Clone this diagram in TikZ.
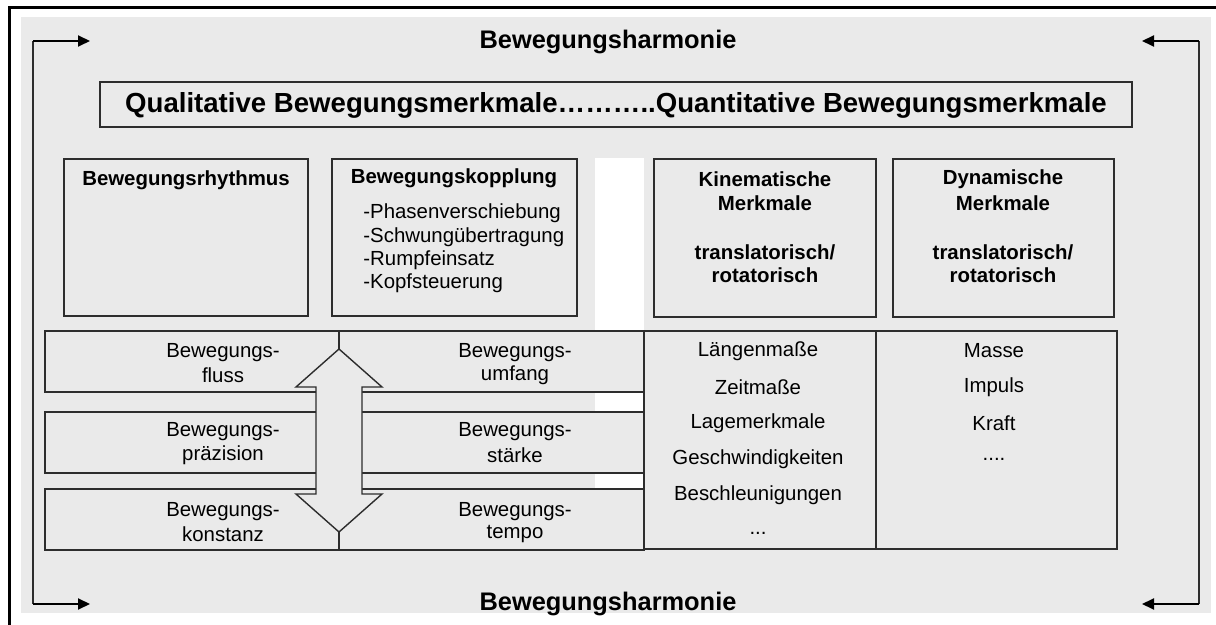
\documentclass[tikz,border=0pt]{standalone}
\usepackage{fontspec}
\setmainfont{Liberation Sans}
\usetikzlibrary{arrows.meta}
\definecolor{panel}{RGB}{234,234,234}
\definecolor{rule}{RGB}{45,45,45}
\begin{document}
\begin{tikzpicture}[x=0.5pt,y=-0.5pt,
  box/.style={draw=rule,line width=0.7pt,fill=panel},
  txt/.style={inner sep=0pt,font=\fontsize{10.2}{12}\selectfont},
  btxt/.style={inner sep=0pt,font=\fontsize{10.2}{12}\selectfont\bfseries},
  headline/.style={inner sep=0pt,font=\fontsize{12.7}{15}\selectfont\bfseries},
  loopline/.style={draw=rule,line width=0.75pt},
  flow/.style={line width=1pt,-{Triangle[length=6pt,width=5.5pt]}}
]
\useasboundingbox (0,0) rectangle (1216,625);
\fill[white] (0,0) rectangle (1216,625);
\fill[panel] (21,17) rectangle (1211,613);
% outer frame, partly outside the page
\begin{scope}
  \clip (0,0) rectangle (1216,625);
  \draw[line width=1.5pt] (9,8) rectangle (1240,650);
\end{scope}

% feedback loop on both sides
\coordinate (lt) at (33,41);   \coordinate (lb) at (33,604);
\coordinate (rt) at (1199,41); \coordinate (rb) at (1199,604);
\coordinate (ltt) at (90,41);  \coordinate (lbt) at (90,604);
\coordinate (rtt) at (1142,41);\coordinate (rbt) at (1142,604);
\draw[loopline] (lt) -- (lb);
\draw[loopline] (rt) -- (rb);
\draw[flow] (lt) -- (ltt);
\draw[flow] (lb) -- (lbt);
\draw[flow] (rt) -- (rtt);
\draw[flow] (rb) -- (rbt);

\node[headline] (harmtop) at (608,42) {Bewegungsharmonie};
\node[headline] (harmbot) at (608,604) {Bewegungsharmonie};

% overview bar
\draw[box] (100,82) rectangle (1132,127);
\node[inner sep=0pt,font=\fontsize{13.8}{16}\selectfont\bfseries] (overview) at (616,105)
  {Qualitative Bewegungsmerkmale………..Quantitative Bewegungsmerkmale};

% white strip behind the grid
\fill[white] (595,158) rectangle (644,550);

% upper boxes
\draw[box] (64,159) rectangle (308,316);
\draw[box] (332,159) rectangle (577,316);
\draw[box] (654,159) rectangle (876,317);
\draw[box] (893,159) rectangle (1114,317);

\node[btxt] (rhythm) at (186,180) {Bewegungsrhythmus};
\node[btxt] (kopp) at (454,178) {Bewegungskopplung};
\node[txt,anchor=west] (k1) at (363,213) {-Phasenverschiebung};
\node[txt,anchor=west] (k2) at (363,237) {-Schwungübertragung};
\node[txt,anchor=west] (k3) at (363,260) {-Rumpfeinsatz};
\node[txt,anchor=west] (k4) at (363,283) {-Kopfsteuerung};

\node[btxt] (kin1) at (765,179) {Kinematische};
\node[btxt] (kin2) at (765,203) {Merkmale};
\node[btxt] (kin3) at (765,252) {translatorisch/};
\node[btxt] (kin4) at (765,275) {rotatorisch};

\node[btxt] (dyn1) at (1003,179) {Dynamische};
\node[btxt] (dyn2) at (1003,203) {Merkmale};
\node[btxt] (dyn3) at (1003,252) {translatorisch/};
\node[btxt] (dyn4) at (1003,275) {rotatorisch};

% qualitative rows
\draw[box] (45,331) rectangle (644,392);
\draw[box] (45,412) rectangle (644,473);
\draw[box] (45,489) rectangle (644,550);
\draw[rule,line width=0.7pt] (339,331) -- (339,550);

% quantitative lists
\draw[box] (644,331) rectangle (876,549);
\draw[box] (876,331) rectangle (1117,549);

% double arrow across the rows
\draw[box,line join=miter] (339,349) -- (382,387) -- (362,387) -- (362,494) -- (382,494)
  -- (339,532) -- (296,494) -- (316,494) -- (316,387) -- (296,387) -- cycle;

\node[txt] (f1) at (223,353) {Bewegungs-};
\node[txt] (f2) at (223,375) {fluss};
\node[txt] (p1) at (223,432) {Bewegungs-};
\node[txt] (p2) at (223,455) {präzision};
\node[txt] (c1) at (223,512) {Bewegungs-};
\node[txt] (c2) at (223,534) {konstanz};

\node[txt] (u1) at (515,353) {Bewegungs-};
\node[txt] (u2) at (515,375) {umfang};
\node[txt] (s1) at (515,432) {Bewegungs-};
\node[txt] (s2) at (515,455) {stärke};
\node[txt] (t1) at (515,512) {Bewegungs-};
\node[txt] (t2) at (515,534) {tempo};

\node[txt] (m1) at (758,351) {Längenmaße};
\node[txt] (m2) at (758,387) {Zeitmaße};
\node[txt] (m3) at (758,423) {Lagemerkmale};
\node[txt] (m4) at (758,459) {Geschwindigkeiten};
\node[txt] (m5) at (758,495) {Beschleunigungen};
\node[txt] (m6) at (758,533) {...};

\node[txt] (d1) at (994,351) {Masse};
\node[txt] (d2) at (994,387) {Impuls};
\node[txt] (d3) at (994,423) {Kraft};
\node[txt] (d4) at (994,459) {....};
\end{tikzpicture}
\end{document}
